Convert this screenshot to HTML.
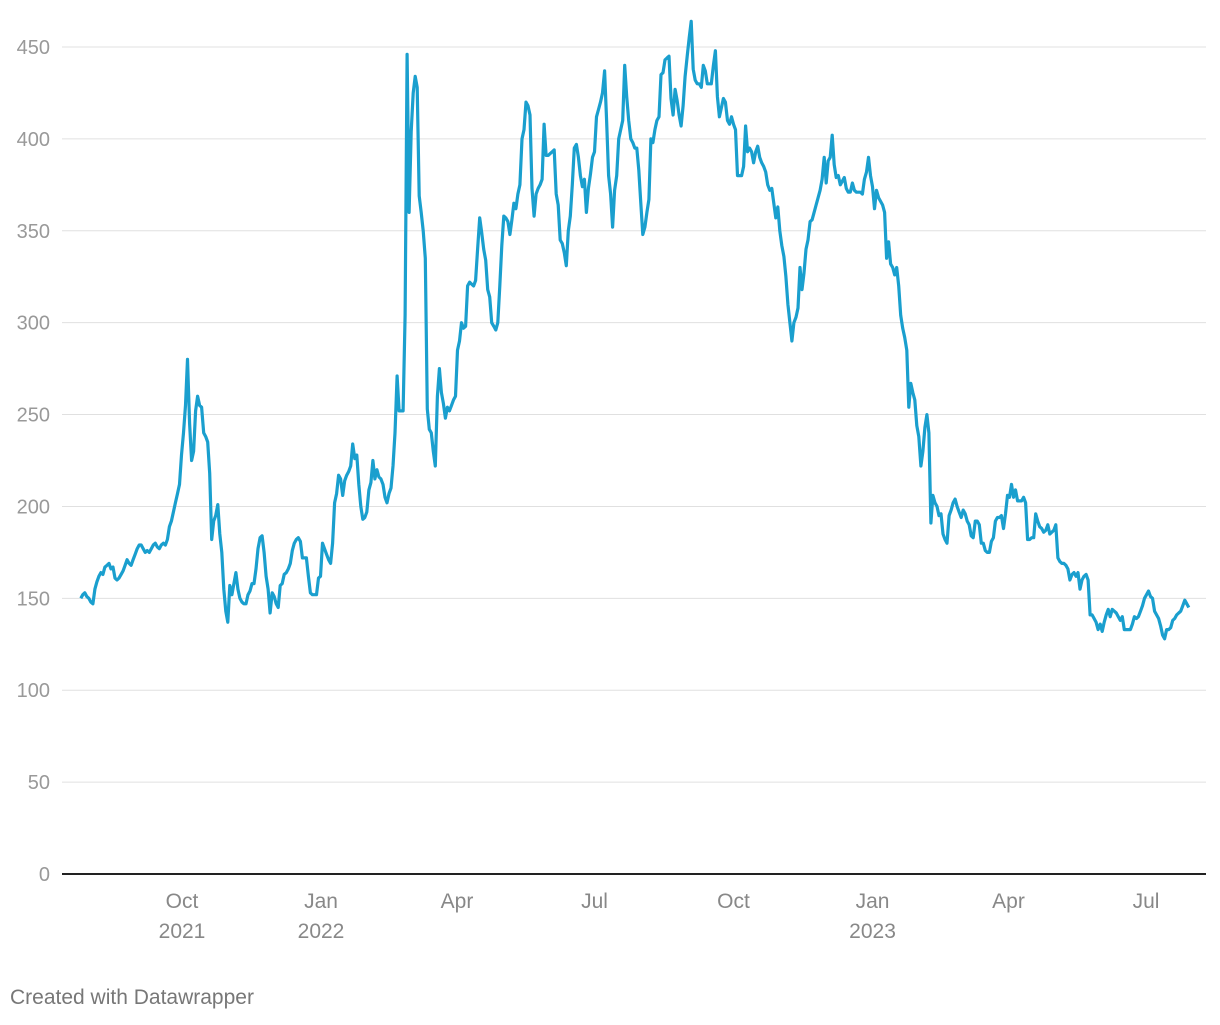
<!DOCTYPE html>
<html><head><meta charset="utf-8"><style>
body{margin:0;background:#fff;font-family:"Liberation Sans",sans-serif}
svg text{font-family:"Liberation Sans",sans-serif}
</style></head><body>
<svg width="1220" height="1020">
<g id="grid"></g><g id="xaxis"></g>
<path id="line" fill="none" stroke="#1a9fce" stroke-width="3.2" stroke-linejoin="round"/>
<text x="10" y="1004" font-size="21" fill="#777">Created with Datawrapper</text>
</svg>
<script>
const startDate = Date.UTC(2021,6,26);
const stepDays = 1.3333;
const values = [150,152,153,151,150,148,147,155,159,162,164,163,167,168,169,166,167,161,160,161,163,165,168,171,169,168,171,174,177,179,179,177,175,176,175,177,179,180,178,177,179,180,179,182,189,192,197,202,207,212,228,240,255,280,
245,225,230,252,260,255,254,240,238,235,218,182,192,195,201,185,175,155,143,137,157,152,158,164,155,150,148,147,147,152,154,158,158,166,177,183,184,175,162,155,142,153,151,147,145,157,158,163,164,166,169,176,180,182,183,181,172,172,172,162,153,152,152,152,161,162,180,177,174,171,169,180,202,207,217,215,206,214,217,219,222,234,226,228,212,200,193,194,197,209,213,225,215,220,216,215,212,205,202,207,210,222,240,271,252,252,252,304,446,360,404,425,434,428,369,360,350,335,253,242,240,230,222,260,275,262,256,248,254,252,255,258,260,285,290,300,297,298,320,322,321,320,323,340,357,349,340,334,318,314,300,298,296,300,320,342,358,357,355,348,356,365,362,370,375,400,405,420,418,413,373,358,370,373,375,378,408,391,391,392,393,394,370,364,345,343,338,331,350,358,375,395,397,390,380,374,378,360,373,381,390,393,412,416,420,425,437,410,380,370,352,372,380,400,405,410,440,423,410,400,398,395,395,383,365,348,352,360,367,400,398,405,410,412,435,436,443,444,445,422,413,427,421,413,407,418,434,445,455,464,438,432,430,430,428,440,437,430,430,430,440,448,423,412,417,422,420,410,408,412,408,405,380,380,380,385,407,393,395,393,387,393,396,390,387,385,382,375,372,373,365,357,363,350,342,336,325,310,300,290,300,303,308,330,318,327,340,345,355,356,360,364,368,372,378,390,376,388,390,402,386,379,380,375,377,379,373,371,371,376,372,371,371,371,370,378,382,390,380,374,362,372,368,366,364,360,335,344,332,330,326,330,320,304,297,292,285,254,267,262,258,244,238,222,230,243,250,240,191,206,202,200,195,196,185,182,180,195,198,202,204,200,197,194,198,196,192,190,184,183,192,192,190,180,180,176,175,175,181,183,192,194,194,195,188,196,206,205,212,205,209,203,203,203,205,202,182,182,183,183,196,192,189,188,186,187,190,185,186,187,190,172,170,169,169,168,166,160,163,164,162,164,155,160,162,163,160,141,141,139,137,133,136,132,137,141,144,140,144,143,142,140,138,140,133,133,133,133,136,140,139,140,143,146,150,152,154,151,150,143,141,139,135,130,128,133,133,134,138,139,141,142,143,146,149,147,145];
const yTicks = [0,50,100,150,200,250,300,350,400,450];
const xTickLabels = [["Oct","2021",2021,9],["Jan","2022",2022,0],["Apr","",2022,3],["Jul","",2022,6],["Oct","",2022,9],["Jan","2023",2023,0],["Apr","",2023,3],["Jul","",2023,6]];

const DAY=86400000, ref=Date.UTC(2021,9,1);
const xS = t => 182 + (t-ref)/DAY*1.511;
const yS = v => 874 - v*827/450;
const NS="http://www.w3.org/2000/svg";
const grid=document.getElementById('grid'), xa=document.getElementById('xaxis');
yTicks.forEach(v=>{
  const l=document.createElementNS(NS,'line');
  
  
  l.setAttribute('x1',62);l.setAttribute('x2',1206);
  l.setAttribute('y1',yS(v));l.setAttribute('y2',yS(v));
  l.setAttribute('stroke',v===0?'#222':'#e0e0e0');l.setAttribute('stroke-width',v===0?2:1);
  grid.appendChild(l);
  const t=document.createElementNS(NS,'text');
  
  
  t.setAttribute('x',50);t.setAttribute('y',yS(v)+7);t.setAttribute('text-anchor','end');
  t.setAttribute('font-size','20');t.setAttribute('fill','#999');t.textContent=v;
  grid.appendChild(t);
});
xTickLabels.forEach(d=>{
  const x=xS(Date.UTC(d[2],d[3],1));
  const t=document.createElementNS(NS,'text');
  
  
  t.setAttribute('x',x);t.setAttribute('y',908);t.setAttribute('text-anchor','middle');
  t.setAttribute('font-size','21');t.setAttribute('fill','#888');t.textContent=d[0];
  xa.appendChild(t);
  if(d[1]){
    const y=document.createElementNS(NS,'text');
    
    
    y.setAttribute('x',x);y.setAttribute('y',938);y.setAttribute('text-anchor','middle');
    y.setAttribute('font-size','21');y.setAttribute('fill','#888');y.textContent=d[1];
    xa.appendChild(y);
  }
});
document.getElementById('line').setAttribute('d', values.map((v,i)=>(i?'L':'M')+xS(startDate+i*stepDays*DAY).toFixed(1)+','+yS(v).toFixed(1)).join(''));
</script>
</body></html>
